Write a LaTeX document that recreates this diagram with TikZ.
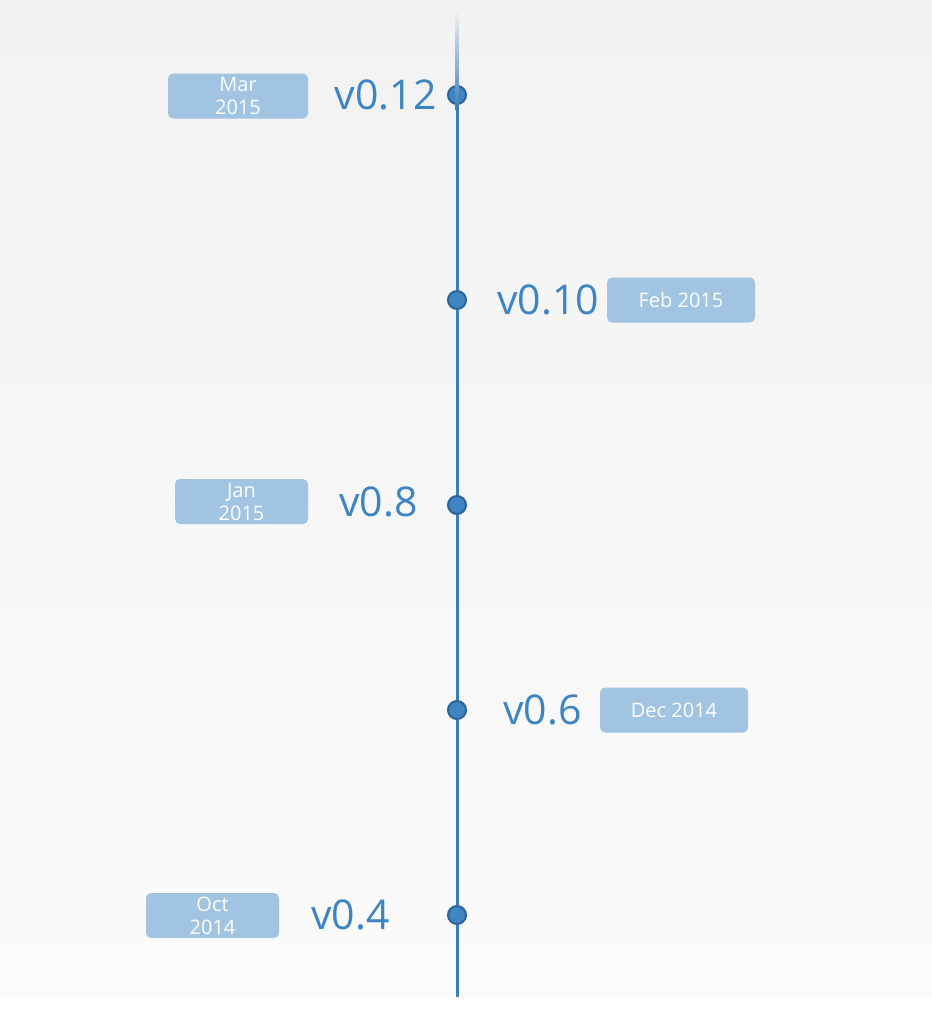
\documentclass[tikz,border=0pt]{standalone}
\usepackage{fontspec}
\setmainfont{Open Sans}
\usetikzlibrary{positioning}
\definecolor{bgtop}{HTML}{F2F2F2}
\definecolor{bgbot}{HTML}{FBFBFB}
\definecolor{linecol}{HTML}{3B7DB9}
\definecolor{dotcol}{HTML}{3F84C3}
\definecolor{dotedge}{HTML}{2A6399}
\definecolor{vercol}{HTML}{3C84C3}
\definecolor{boxcol}{HTML}{A1C4E3}
\tikzset{
  dot/.style = {circle, inner sep=0pt, minimum size=9pt, fill=dotcol,
    draw=dotedge, line width=1pt},% release point
  ver/.style = {inner sep=0pt, text=vercol,
    font=\fontsize{20.5}{20.5}\selectfont},% version number
  datebox/.style = {rectangle, rounded corners=2.5pt, fill=boxcol,
    text=white, inner sep=0pt, align=center, minimum height=22.5pt,
    font=\fontsize{10}{11.5}\selectfont}% release date
}
\begin{document}
\begin{tikzpicture}[x=0.5pt,y=-0.5pt]
  \fill[white] (0,0) rectangle (932,1014);
  \shade[top color=bgtop, bottom color=bgbot] (0,0) rectangle (932,997);
  \useasboundingbox (0,0) rectangle (932,1014);

  \coordinate (top) at (457,10);
  \coordinate (bot) at (457,997);

  \node [dot] (d12) at (457,95) {};
  \node [dot] (d10) at (457,300) {};
  \node [dot] (d8) at (457,505) {};
  \node [dot] (d6) at (457,710) {};
  \node [dot] (d4) at (457,915) {};

  \shade[top color=bgtop, bottom color=linecol] (455.5,10) rectangle (458.5,110);
  \foreach \from/\to in {d12/d10,d10/d8,d8/d6,d6/d4,d4/bot}
    \draw [linecol, line width=1.5pt] (\from) -- (\to);

  \node [ver, anchor=east] (v12) at (437,95) {v0.12};
  \node [ver, anchor=west] (v10) at (497,300) {v0.10};
  \node [ver, anchor=east] (v8) at (418,502) {v0.8};
  \node [ver, anchor=west] (v6) at (503,710) {v0.6};
  \node [ver, anchor=east] (v4) at (390,915) {v0.4};

  \node [datebox, minimum width=70pt] (mar) at (238,96) {Mar\\2015};
  \node [datebox, minimum width=74pt] (feb) at (681,300) {Feb 2015};
  \node [datebox, minimum width=66.5pt] (jan) at (241.5,501.5) {Jan\\2015};
  \node [datebox, minimum width=74pt] (dec) at (674,710) {Dec 2014};
  \node [datebox, minimum width=66.5pt] (oct) at (212.5,915.5) {Oct\\2014};
\end{tikzpicture}
\end{document}
